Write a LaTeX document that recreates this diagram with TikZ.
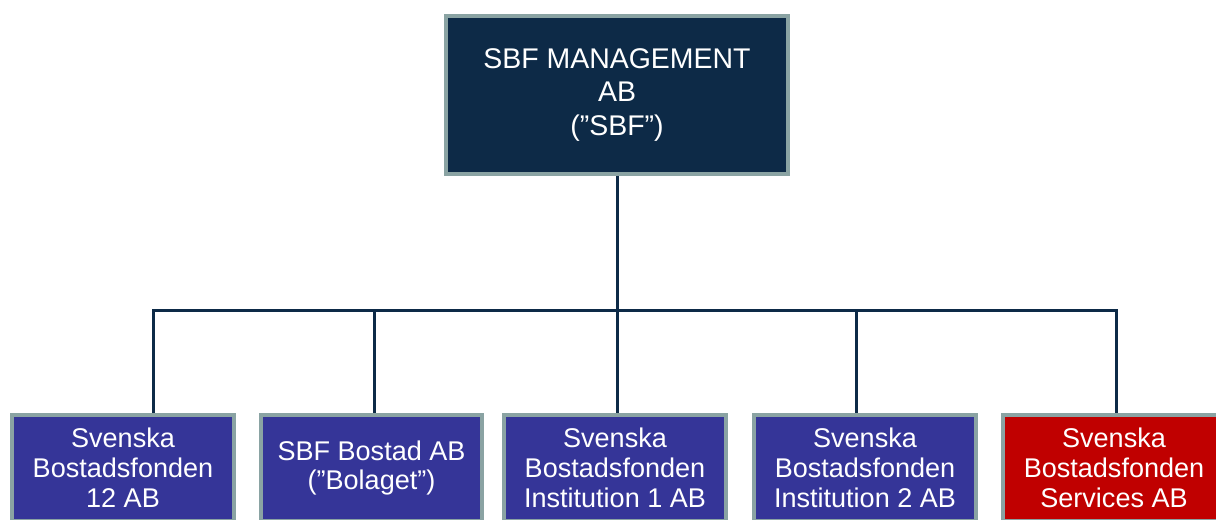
\documentclass[tikz,border=0pt]{standalone}
\usepackage{fontspec}
\setmainfont{Liberation Sans}
\definecolor{sbfnavy}{HTML}{0D2A47}
\definecolor{sbfblue}{HTML}{353598}
\definecolor{sbfred}{HTML}{C00000}
\definecolor{sbfframe}{HTML}{8AA3A3}
\newcommand{\topfont}{\fontsize{16.2pt}{18.9pt}\selectfont}
\newcommand{\subfont}{\fontsize{15.4pt}{17pt}\selectfont}
\tikzset{
  holdbox/.style={draw=sbfframe, line width=0.08cm, fill=sbfnavy, text=white,
    align=center, minimum width=6.84cm, minimum height=3.16cm, inner sep=0pt, font=\topfont},
  subbox/.style={draw=sbfframe, line width=0.08cm, fill=sbfblue, text=white,
    align=center, minimum width=4.44cm, minimum height=2.12cm, inner sep=0pt, font=\subfont},
  link/.style={draw=sbfnavy, line width=0.06cm}
}
\begin{document}
\begin{tikzpicture}[x=0.02cm,y=-0.02cm]
\useasboundingbox (0,0) rectangle (1216,520);
%parent company
\node[holdbox] (sbf) at (617,95) {SBF MANAGEMENT\\AB\\(”SBF”)};
%subsidiaries
\node[subbox] (sb12) at (123,468) {Svenska\\Bostadsfonden\\12 AB};
\node[subbox] (bolaget) at (371.5,468) {SBF Bostad AB\\(”Bolaget”)};
\node[subbox] (inst1) at (615,468) {Svenska\\Bostadsfonden\\Institution 1 AB};
\node[subbox] (inst2) at (865,468) {Svenska\\Bostadsfonden\\Institution 2 AB};
\node[subbox, fill=sbfred] (serv) at (1114,468) {Svenska\\Bostadsfonden\\Services AB};
%bus points
\coordinate (j1) at (153,310);
\coordinate (j2) at (374,310);
\coordinate (j3) at (617,310);
\coordinate (j4) at (856,310);
\coordinate (j5) at (1116,310);
%connectors
\draw[link] (sbf.south) -- (j3);
\draw[link, line cap=rect] (j1) -- (j5);
\foreach \j/\n in {j1/sb12,j2/bolaget,j3/inst1,j4/inst2,j5/serv}
  \draw[link] (\j) -- (\j |- \n.north);
\end{tikzpicture}
\end{document}
